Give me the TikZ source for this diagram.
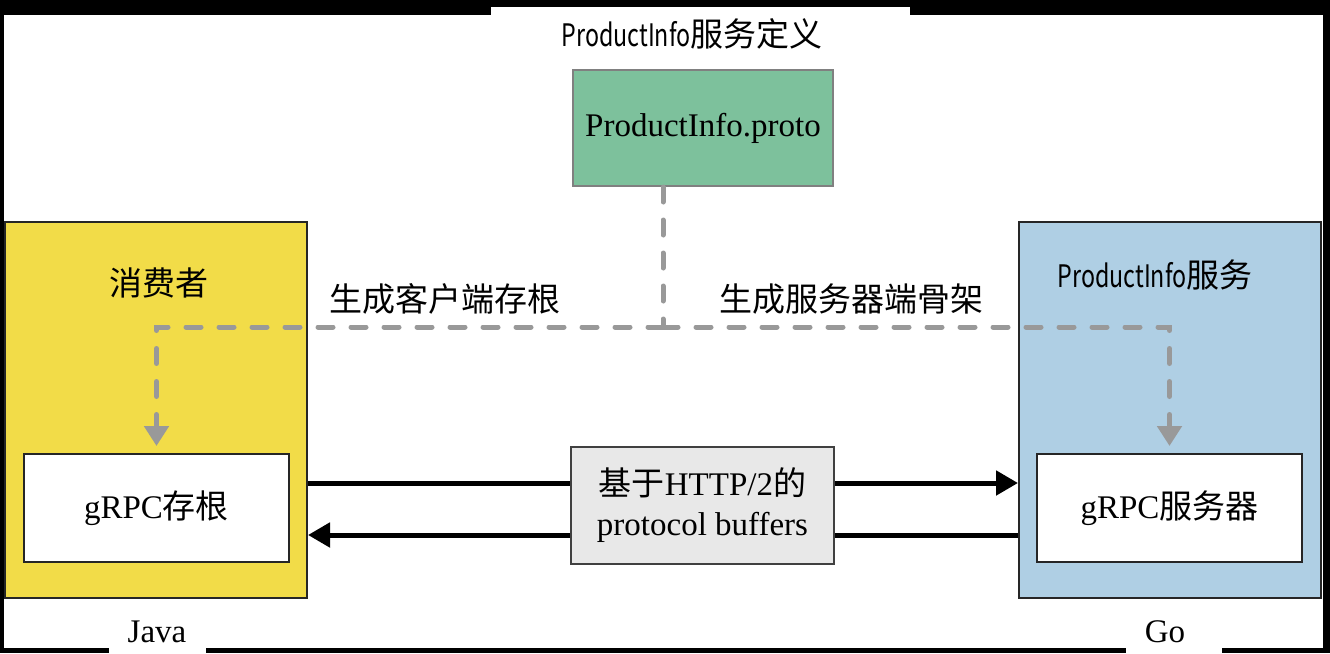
\documentclass[tikz,border=0pt]{standalone}
\usepackage{fontspec}
\setmainfont{Liberation Serif}
\newfontfamily\cjk{Noto Sans CJK SC}
\newcommand\ui[1]{\scalebox{0.75}[1]{\fontsize{31}{36}\selectfont\cjk #1}}
\usepackage{tikz}
\usetikzlibrary{arrows.meta, positioning}
\definecolor{consumerfill}{HTML}{F2DC48}
\definecolor{servicefill}{HTML}{AFCFE4}
\definecolor{protofill}{HTML}{7DC19C}
\definecolor{wirefill}{HTML}{E8E8E8}
\definecolor{gengray}{HTML}{999999}
\tikzset{
x=1pt, y=-1pt, % one unit is one pixel of the reference, y runs down
box/.style={draw=black!85, line width=2pt, inner sep=0pt}, % every rectangle
wire/.style={line width=5pt, -{Triangle[length=22pt, width=24pt]}}, % the black data arrows
gen/.style={draw=gengray, line width=5pt, line cap=round, dash pattern=on 15pt off 18pt}, % the generated code lines
gentip/.style={-{Triangle[length=20pt, width=24pt]}, shorten >=7pt}, % arrow head on the generated code lines
}
\begin{document}
\begin{tikzpicture}[font=\fontsize{33}{40}\selectfont]
            % the black frame with its gaps
            \fill[black] (0,0) rectangle (1330,653);
            \fill[white] (4,15) rectangle (1323,648);
            \fill[white] (491,7) rectangle (910,15);
            \fill[white] (109,648) rectangle (206,653);
            \fill[white] (1126,648) rectangle (1222,653);

            \node[box, fill=consumerfill, minimum width=302pt, minimum height=376pt] (consumer) at (156,410) {};
            \node[box, fill=servicefill, minimum width=302pt, minimum height=376pt] (service) at (1170,410) {};
            \node[box, fill=white, minimum width=265pt, minimum height=108pt] (stub) at (156.5,508) {gRPC{\cjk 存根}};
            \node[box, fill=white, minimum width=265pt, minimum height=108pt] (server) at (1169.5,508) {gRPC{\cjk 服务器}};
            \node[box, draw=black!50, fill=protofill, minimum width=260pt, minimum height=116pt] (proto) at (703,128) {ProductInfo.proto};

            \node (def) at (692,34) {\ui{ProductInfo}{\cjk 服务定义}};
            \node (consumertext) at (159,283) {\cjk 消费者};
            \node (servicetext) at (1155,275) {\ui{ProductInfo}{\cjk 服务}};
            \node (java) at (157,632) {Java};
            \node (go) at (1165,632) {Go};

            % code generated from the proto file
            \coordinate (split) at (663,327);
            \draw[gen] (proto.south -| split) -- (split);
            \draw[gen, gentip] (split) -| (stub.north);
            \draw[gen, gentip] (split) -| (server.north);
            \node (stubtext) at (445,299) {\cjk 生成客户端存根};
            \node (skeltext) at (851,299) {\cjk 生成服务器端骨架};

            % request and response
            \draw[wire] (consumer.east |- 0,483) -- (service.west |- 0,483);
            \draw[wire] (service.west |- 0,535) -- (consumer.east |- 0,535);
            \node[box, draw=black!75, fill=wirefill, minimum width=263pt, minimum height=117pt, align=center] (wire) at (702.5,505.5)
                {{\cjk 基于}HTTP/2{\cjk 的}\\protocol buffers};
            \end{tikzpicture}
\end{document}
